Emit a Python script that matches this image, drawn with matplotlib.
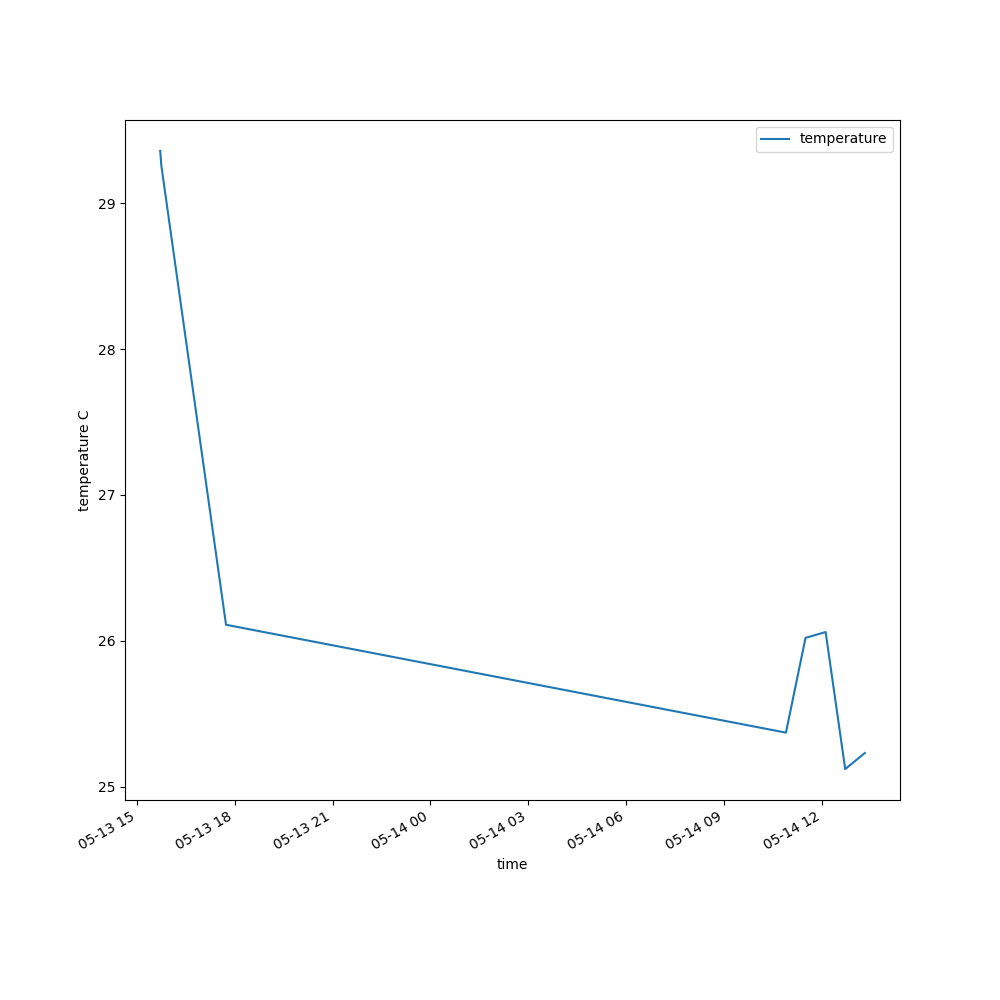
import pandas as pd
import matplotlib.pyplot as plt

# readings
times = pd.to_datetime([
    "2023-05-13 15:43", "2023-05-13 15:45", "2023-05-13 17:44",
    "2023-05-14 10:54", "2023-05-14 11:30", "2023-05-14 12:07",
    "2023-05-14 12:43", "2023-05-14 13:19",
])
temperature = [29.36, 29.26, 26.11, 25.37, 26.02, 26.06, 25.12, 25.23]

fig, ax = plt.subplots(figsize=(10, 10), dpi=100)
ax.plot(times, temperature, label="temperature")
ax.set_xlabel("time")
ax.set_ylabel("temperature C")
ax.legend(loc="upper right")
fig.autofmt_xdate()

fig.savefig("out.png")
